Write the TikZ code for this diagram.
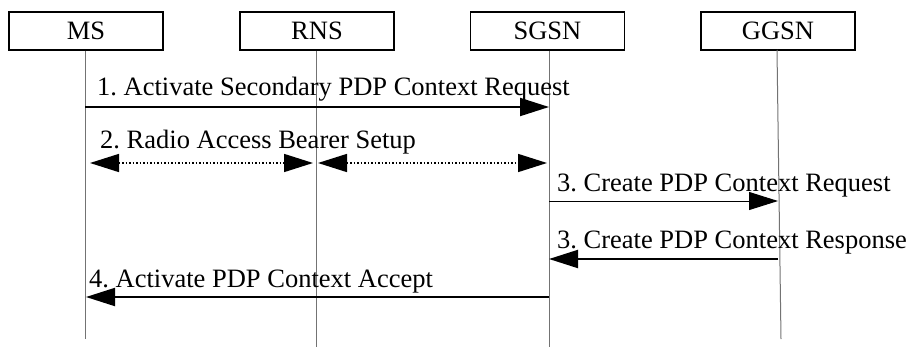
\documentclass[tikz,border=0pt]{standalone}
\usepackage{fontspec}
\setmainfont{Liberation Serif}
\usetikzlibrary{arrows.meta}
\frenchspacing
\begin{document}
\begin{tikzpicture}[x=1pt,y=-1pt,
  ent/.style={draw,line width=1.2pt,minimum width=154pt,minimum height=38pt,inner sep=0pt,font=\fontsize{26.5}{30}\selectfont},
  life/.style={draw=black!55,line width=1pt},
  lbl/.style={anchor=base west,inner sep=0pt,font=\fontsize{26.5}{30}\selectfont},
  tip/.style={-{Triangle[length=29pt,width=18pt]}},
  bitip/.style={{Triangle[length=29pt,width=18pt]}-{Triangle[length=29pt,width=18pt]}},
  msg/.style={line width=2pt},
  thin/.style={line width=1pt},
  dots/.style={line width=1.5pt,dotted}]
\useasboundingbox (0,0) rectangle (908,359);
\node[ent] (ms) at (86,31) {MS};
\node[ent] (rns) at (317,31) {RNS};
\node[ent] (sgsn) at (547.5,31) {SGSN};
\node[ent] (ggsn) at (778,31) {GGSN};
\coordinate (msb) at (85,339);
\coordinate (rnsb) at (316,347);
\coordinate (sgsnb) at (549,347);
\coordinate (ggsnb) at (781,339);
\draw[life] (ms.south -| msb) -- (msb);
\draw[life] (rns.south -| rnsb) -- (rnsb);
\draw[life] (sgsn.south -| sgsnb) -- (sgsnb);
\draw[life] (777,50) -- (ggsnb);
% message 1
\coordinate (m1a) at (85,107);
\coordinate (m1b) at (549,107);
\draw[msg,tip] (m1a) -- (m1b);
\node[lbl] (l1) at (97,95) {1. Activate Secondary PDP Context Request};
% message 2
\coordinate (m2a) at (90,163);
\coordinate (m2b) at (313,163);
\coordinate (m2c) at (318,163);
\coordinate (m2d) at (547,163);
\draw[dots,bitip] (m2a) -- (m2b);
\draw[dots,bitip] (m2c) -- (m2d);
\node[lbl] (l2) at (100,148) {2. Radio Access Bearer Setup};
% message 3 request
\coordinate (m3a) at (549,201);
\coordinate (m3b) at (778,201);
\draw[thin,tip] (m3a) -- (m3b);
\node[lbl] (l3) at (557,191) {3. Create PDP Context Request};
% message 3 response
\coordinate (m4a) at (778,259);
\coordinate (m4b) at (549,259);
\draw[msg,tip] (m4a) -- (m4b);
\node[lbl] (l4) at (557,248) {3. Create PDP Context Response};
% message 4
\coordinate (m5a) at (549,297);
\coordinate (m5b) at (86,297);
\draw[msg,tip] (m5a) -- (m5b);
\node[lbl] (l5) at (89,287) {4. Activate PDP Context Accept};
\end{tikzpicture}
\end{document}
